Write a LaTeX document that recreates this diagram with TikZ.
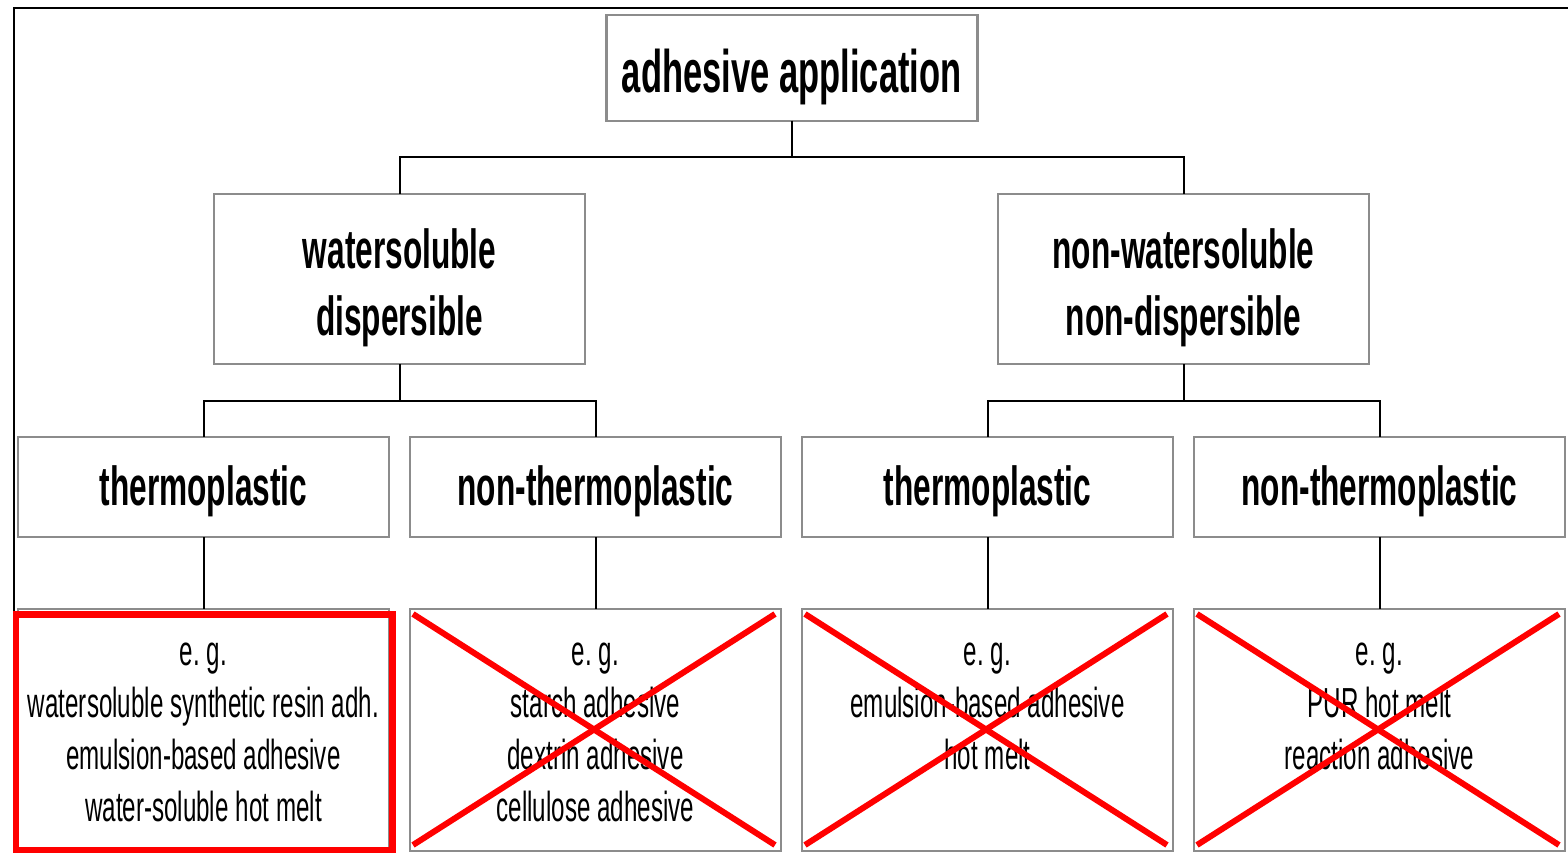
\documentclass[tikz,border=0pt]{standalone}
\usepackage{fontspec}
\usetikzlibrary{calc}
\newfontfamily\nar[FakeStretch=0.575]{Liberation Sans}
\newcommand\narspace{\frenchspacing\spaceskip=0.165em\relax\xspaceskip=0.165em\relax}
\definecolor{boxgray}{RGB}{140,140,140}
\definecolor{xred}{RGB}{255,0,0}
\begin{document}
\begin{tikzpicture}[x=1pt,y=-1pt,
  box/.style={draw=boxgray, line width=2.5pt, minimum width=371pt, inner sep=0pt, outer sep=0pt},
  lvone/.style={box, minimum height=106pt},
  lvtwo/.style={box, minimum height=170pt},
  lvthree/.style={box, minimum height=100pt},
  lvfour/.style={box, minimum height=242pt},
  txtbase/.style={anchor=base, inner sep=0pt, outer sep=0pt, text width=440pt, align=center, execute at begin node=\narspace},
  bigtxt/.style={txtbase, font=\nar\bfseries\fontsize{60}{72}\selectfont},
  midtxt/.style={txtbase, font=\nar\bfseries\fontsize{55}{67}\selectfont},
  smalltxt/.style={txtbase, font=\nar\fontsize{42}{52}\selectfont},
  conn/.style={draw=black, line width=2pt},
  cross/.style={draw=xred, line width=6pt},
  redframe/.style={draw=xred, line width=6.5pt}
]
\useasboundingbox (0,0) rectangle (1568,853);
\fill[white] (0,0) rectangle (1568,853);
% outer frame
\coordinate (frameBL) at (14,853);
\coordinate (frameTL) at (14,8);
\coordinate (frameTR) at (1568,8);
\draw[line width=2pt] (frameBL) -- (frameTL) -- (frameTR);

% boxes
\node[lvone] (root) at (791.75,68) {};
\node[lvtwo] (ws) at (399.5,279) {};
\node[lvtwo] (nws) at (1183.5,279) {};
\node[lvthree] (wst) at (203.5,487) {};
\node[lvthree] (wsn) at (595.5,487) {};
\node[lvthree] (nwt) at (987.5,487) {};
\node[lvthree] (nwn) at (1379.5,487) {};
\node[lvfour] (wste) at (203.5,730) {};
\node[lvfour] (wsne) at (595.5,730) {};
\node[lvfour] (nwte) at (987.5,730) {};
\node[lvfour] (nwne) at (1379.5,730) {};

% texts
\node[bigtxt] (rootlbl) at ($(root.north)+(0,78)$) {adhesive application};
\node[midtxt] (wslbl) at ($(ws.north)+(0,74)$) {watersoluble\\dispersible};
\node[midtxt] (nwslbl) at ($(nws.north)+(0,74)$) {non-watersoluble\\non-dispersible};
\node[midtxt] (wstlbl) at ($(wst.north)+(0,68)$) {thermoplastic};
\node[midtxt] (wsnlbl) at ($(wsn.north)+(0,68)$) {non-thermoplastic};
\node[midtxt] (nwtlbl) at ($(nwt.north)+(0,68)$) {thermoplastic};
\node[midtxt] (nwnlbl) at ($(nwn.north)+(0,68)$) {non-thermoplastic};
\node[smalltxt] (wstelbl) at ($(wste.north)+(0,56)$) {e. g.\\watersoluble synthetic resin adh.\\emulsion-based adhesive\\water-soluble hot melt};
\node[smalltxt] (wsnelbl) at ($(wsne.north)+(0,56)$) {e. g.\\starch adhesive\\dextrin adhesive\\cellulose adhesive};
\node[smalltxt] (nwtelbl) at ($(nwte.north)+(0,56)$) {e. g.\\emulsion-based adhesive\\hot melt};
\node[smalltxt] (nwnelbl) at ($(nwne.north)+(0,56)$) {e. g.\\PUR hot melt\\reaction adhesive};

% connectors
\draw[conn] (root.south) -- ++(0,36) -| (ws.north);
\draw[conn] (root.south) -- ++(0,36) -| (nws.north);
\draw[conn] (ws.south) -- ++(0,37) -| (wst.north);
\draw[conn] (ws.south) -- ++(0,37) -| (wsn.north);
\draw[conn] (nws.south) -- ++(0,37) -| (nwt.north);
\draw[conn] (nws.south) -- ++(0,37) -| (nwn.north);
\draw[conn] (wst.south) -- (wste.north);
\draw[conn] (wsn.south) -- (wsne.north);
\draw[conn] (nwt.south) -- (nwte.north);
\draw[conn] (nwn.south) -- (nwne.north);

% red highlight frame
\draw[redframe] ($(wste.north west)+(-2,5.5)$) rectangle ($(wste.south east)+(3.5,-1)$);

% red crosses
\foreach \b in {wsne,nwte,nwne}{
  \draw[cross] ($(\b.north west)+(3,5)$) -- ($(\b.south east)+(-6,-6)$);
  \draw[cross] ($(\b.north east)+(-6,5)$) -- ($(\b.south west)+(3,-6)$);
}
\end{tikzpicture}
\end{document}
